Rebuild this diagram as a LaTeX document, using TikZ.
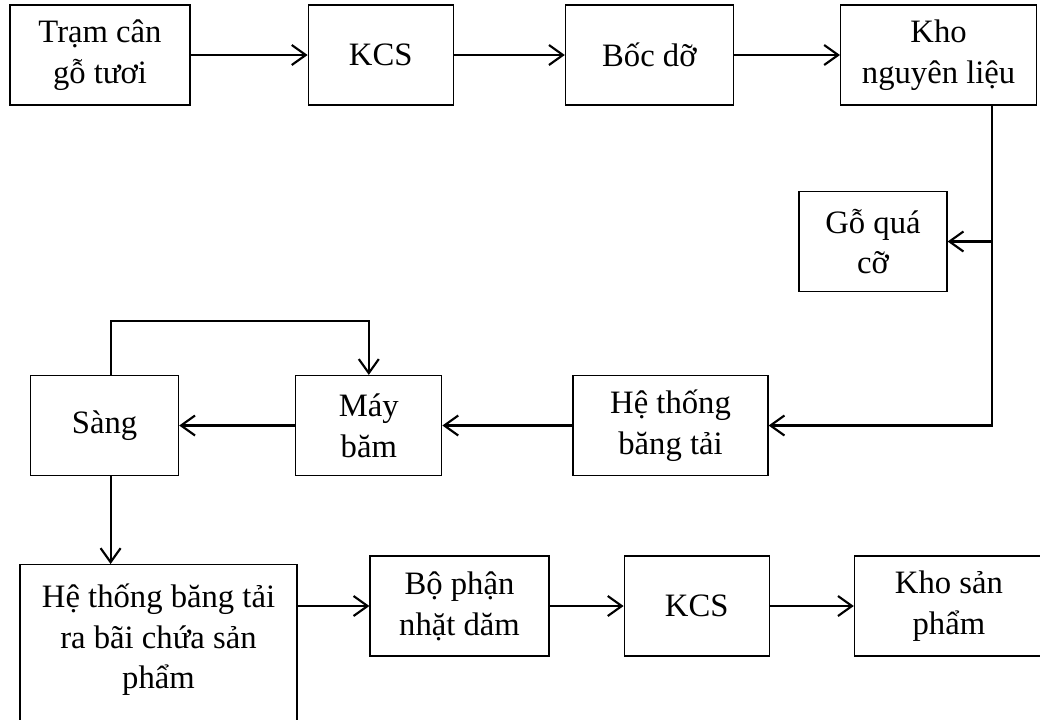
\documentclass[tikz,border=0pt]{standalone}
\usepackage{fontspec}
\setmainfont{Liberation Serif}
\usepackage{tikz}
\usetikzlibrary{arrows.meta,positioning}
\newcommand\boxfont{\fontsize{24.5pt}{30.5pt}\selectfont}
\begin{document}
\begin{tikzpicture}[x=0.75pt,y=-0.75pt,
    box/.style={rectangle,draw,line width=0.9pt,align=center,
      font=\boxfont,minimum height=75pt,inner sep=2pt},
    arr/.style={-{Straight Barb[length=10.5pt,width=15pt]},line width=1.6pt}
  ]
    \useasboundingbox (0,0) rectangle (1040,719);

    % hang tren
    \node[box,minimum width=135pt] (tram) at (100,55) {Trạm cân\\gỗ tươi};
    \node[box,minimum width=108.75pt,right=87.75pt of tram] (kcsa) {KCS};
    \node[box,minimum width=126pt,right=83.25pt of kcsa] (bocdo) {Bốc dỡ};
    \node[box,minimum width=147pt,right=79.5pt of bocdo] (khonl)
      {Kho\\nguyên liệu};
    \node[box,minimum width=111pt] (goqc) at (873,241.5) {Gỗ quá\\cỡ};

    % hang giua
    \node[box,minimum width=146.25pt] (htbt) at (670.5,425.5)
      {Hệ thống\\băng tải};
    \node[box,minimum width=109.5pt,left=97.5pt of htbt] (mayb) {Máy\\băm};
    \node[box,minimum width=111pt,left=87pt of mayb] (sang) {Sàng};

    % hang duoi
    \node[box,anchor=north,minimum width=207.75pt,inner ysep=14.5pt,
      text depth=150pt] (rabai)
      at (158.5,564) {Hệ thống băng tải\\ra bãi chứa sản\\phẩm};
    \node[box,minimum width=134.25pt] (bophan) at (459.5,606)
      {Bộ phận\\nhặt dăm};
    \node[box,minimum width=108.75pt,right=55.5pt of bophan] (kcsb) {KCS};
    \node[box,minimum width=141.75pt,right=63pt of kcsb] (khosp)
      {Kho sản\\phẩm};

    \draw[arr] (tram)  -- (kcsa);
    \draw[arr] (kcsa)  -- (bocdo);
    \draw[arr] (bocdo) -- (khonl);
    \draw[arr] ([xshift=-33.75pt]khonl.south east) |- (htbt.east);
    \draw[arr] ([xshift=-33.75pt]khonl.south east |- goqc.east) -- (goqc.east);
    \draw[arr] (htbt)  -- (mayb);
    \draw[arr] (mayb)  -- (sang);
    \draw[arr] ([xshift=4.5pt]sang.north) -- ++(0,-54) -| (mayb.north);
    \draw[arr] ([xshift=4.5pt]sang.south) -- ([xshift=4.5pt]sang.south |- rabai.north);
    \draw[arr] (rabai.east |- bophan.west) -- (bophan.west);
    \draw[arr] (bophan) -- (kcsb);
    \draw[arr] (kcsb)   -- (khosp);
  \end{tikzpicture}
\end{document}
